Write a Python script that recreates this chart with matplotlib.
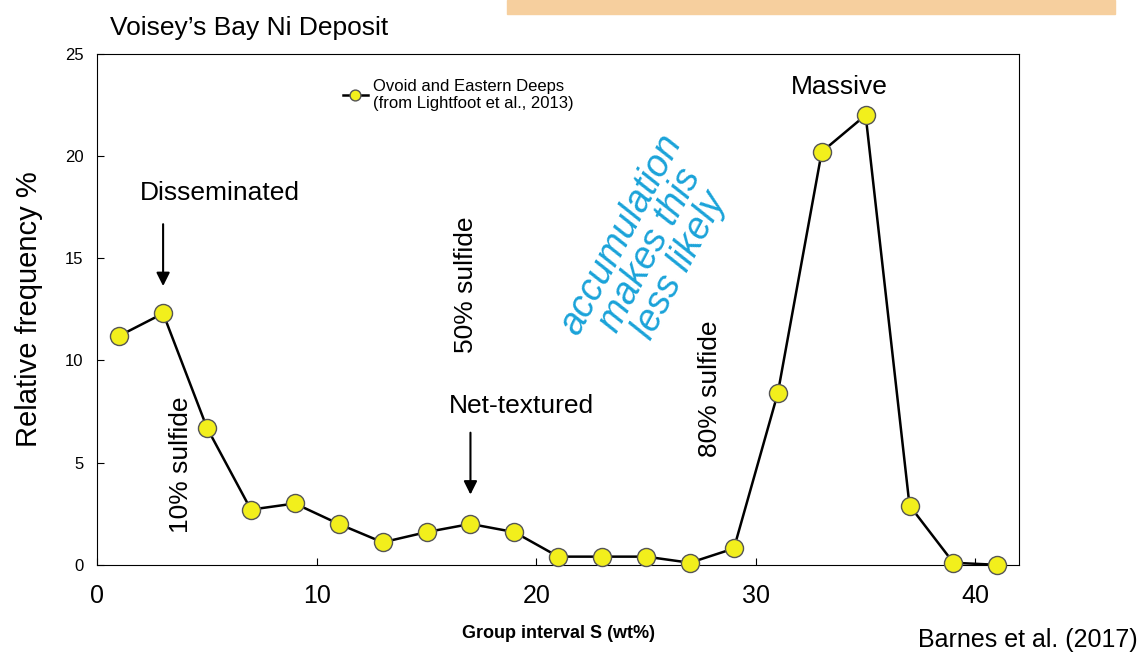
import matplotlib
matplotlib.use('Agg')
import matplotlib.pyplot as plt
from matplotlib.patches import Rectangle

plt.rcParams['font.family'] = ['Liberation Sans', 'DejaVu Sans']

# group interval S (wt%) and relative frequency
s_interval = [1, 3, 5, 7, 9, 11, 13, 15, 17, 19, 21, 23, 25, 27, 29, 31, 33, 35, 37, 39, 41]
rel_freq = [11.2, 12.3, 6.7, 2.7, 3.0, 2.0, 1.1, 1.6, 2.0, 1.6, 0.4, 0.4, 0.4, 0.1, 0.8,
            8.4, 20.2, 22.0, 2.9, 0.1, 0.0]
x_ticks = [0, 10, 20, 30, 40]
y_ticks = [0, 5, 10, 15, 20, 25]

fig = plt.figure(figsize=(11.44, 6.56), dpi=100)
fig.patches.append(Rectangle((507 / 1144, 1 - 14 / 656), 608 / 1144, 14 / 656,
                             transform=fig.transFigure, color='#f6cf9e', zorder=0))

ax = fig.add_axes([0.085, 0.139, 0.806, 0.779])
ax.plot(s_interval, rel_freq, '-o', color='black', lw=1.8, markersize=13,
        markerfacecolor='#f2ef1c', markeredgecolor='#555555', markeredgewidth=1,
        label='Ovoid and Eastern Deeps\n(from Lightfoot et al., 2013)', clip_on=False, zorder=3)
ax.set_xlim(0, 42)
ax.set_ylim(0, 25)
ax.set_xticks(x_ticks)
ax.set_yticks(y_ticks)
ax.tick_params(axis='x', labelsize=18, direction='in', length=5, pad=14)
ax.tick_params(axis='y', labelsize=12, direction='in', length=5, pad=10)
ax.set_xlabel('Group interval S (wt%)', fontsize=13, fontweight='bold', labelpad=12)
ax.set_ylabel('Relative frequency %', fontsize=21, labelpad=16)

leg = ax.legend(loc='upper left', bbox_to_anchor=(0.25, 0.98), frameon=False,
                fontsize=12, handlelength=1.5, markerscale=0.6, handletextpad=0.3)

ax.annotate('', xy=(3, 13.5), xytext=(3, 16.8),
            arrowprops=dict(arrowstyle='-|>', color='black', lw=1.5, mutation_scale=20))
ax.text(5.6, 17.6, 'Disseminated', ha='center', va='bottom', fontsize=19)
ax.annotate('', xy=(17, 3.3), xytext=(17, 6.6),
            arrowprops=dict(arrowstyle='-|>', color='black', lw=1.5, mutation_scale=20))
ax.text(19.3, 7.2, 'Net-textured', ha='center', va='bottom', fontsize=19)
ax.text(33.8, 22.8, 'Massive', ha='center', va='bottom', fontsize=19)
ax.text(3.8, 4.9, '10% sulfide', rotation=90, ha='center', va='center', fontsize=19)
ax.text(16.8, 13.7, '50% sulfide', rotation=90, ha='center', va='center', fontsize=19)
ax.text(27.9, 8.6, '80% sulfide', rotation=90, ha='center', va='center', fontsize=19)

ax.text(25.2, 15.4, 'accumulation\nmakes this\nless likely', rotation=62, ha='center',
        va='center', fontsize=27, color='#1aa3d9', style='italic', linespacing=0.9)

fig.text(110 / 1144, 1 - 28 / 656, 'Voisey\u2019s Bay Ni Deposit', fontsize=19, va='center')
fig.text(1138 / 1144, 1 - 640 / 656, 'Barnes et al. (2017)', fontsize=18, ha='right', va='center')

fig.savefig('out.png', dpi=100)
